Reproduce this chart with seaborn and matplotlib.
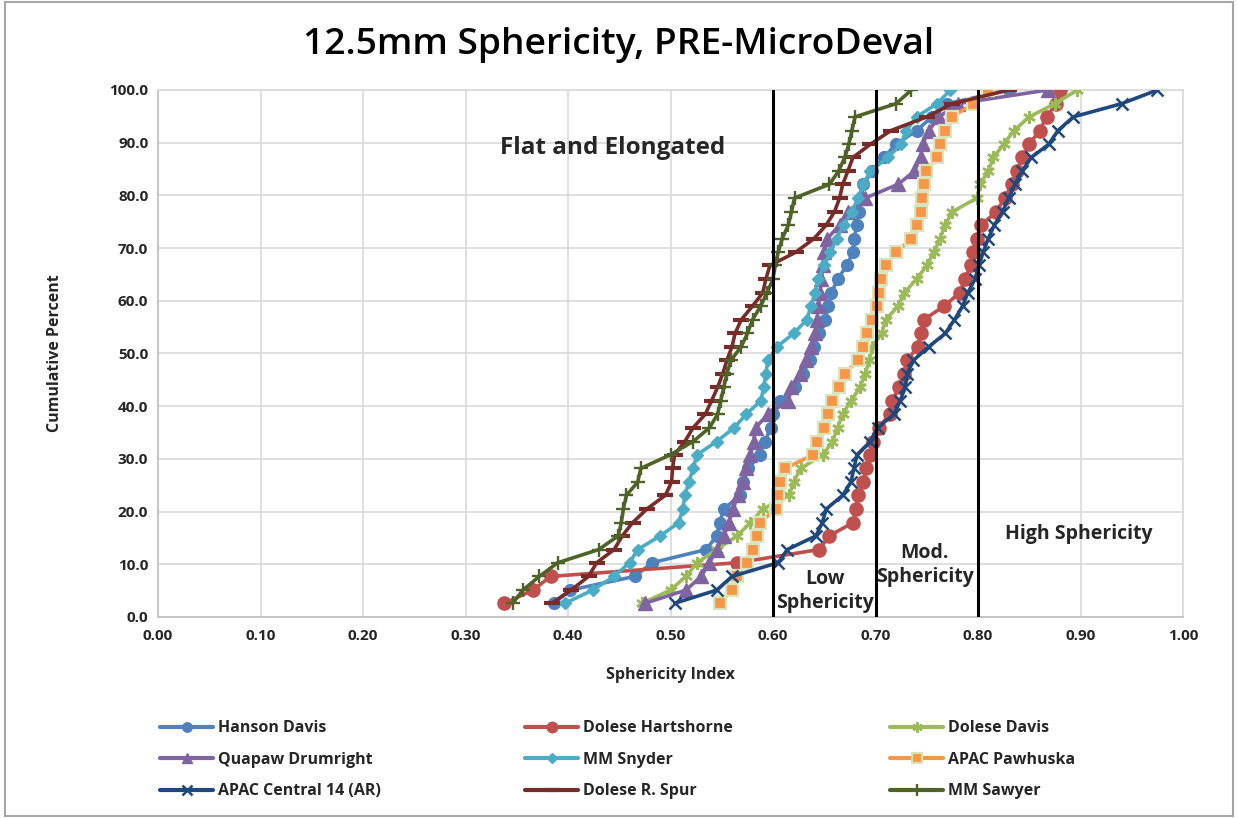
import matplotlib
matplotlib.use("Agg")
import matplotlib.pyplot as plt
import seaborn as sns
import pandas as pd
from matplotlib.patches import Rectangle
from matplotlib.lines import Line2D

# ---------------- data ----------------
cum_percent = [2.6, 5.1, 7.7, 10.3, 12.8, 15.4, 17.9, 20.5, 23.1, 25.6, 28.2, 30.8, 33.3,
               35.9, 38.5, 41.0, 43.6, 46.2, 48.7, 51.3, 53.8, 56.4, 59.0, 61.5, 64.1, 66.7,
               69.2, 71.8, 74.4, 76.9, 79.5, 82.1, 84.6, 87.2, 89.7, 92.3, 94.9, 97.4, 100.0]

hanson_davis = [0.386, 0.402, 0.465, 0.482, 0.535, 0.545, 0.548, 0.552, 0.568, 0.571, 0.576, 0.587, 0.592,
                0.598, 0.600, 0.607, 0.621, 0.629, 0.636, 0.640, 0.645, 0.651, 0.654, 0.657, 0.663, 0.672,
                0.678, 0.679, 0.682, 0.684, 0.686, 0.688, 0.697, 0.708, 0.720, 0.740, 0.755, 0.770, 0.830]
dolese_hartshorne = [0.338, 0.366, 0.383, 0.565, 0.645, 0.655, 0.678, 0.681, 0.683, 0.688, 0.691, 0.695, 0.698,
                     0.703, 0.714, 0.716, 0.723, 0.728, 0.731, 0.741, 0.744, 0.747, 0.767, 0.782, 0.787, 0.793,
                     0.795, 0.799, 0.803, 0.818, 0.826, 0.833, 0.838, 0.843, 0.850, 0.860, 0.867, 0.876, 0.880]
dolese_davis = [0.472, 0.500, 0.515, 0.526, 0.545, 0.565, 0.578, 0.590, 0.616, 0.620, 0.627, 0.649, 0.658,
                0.663, 0.668, 0.676, 0.685, 0.690, 0.694, 0.697, 0.706, 0.710, 0.722, 0.728, 0.740, 0.750,
                0.757, 0.763, 0.768, 0.775, 0.799, 0.802, 0.810, 0.815, 0.825, 0.835, 0.850, 0.875, 0.897]
quapaw_drumright = [0.475, 0.515, 0.530, 0.538, 0.545, 0.552, 0.557, 0.561, 0.566, 0.571, 0.574, 0.578, 0.581,
                    0.583, 0.595, 0.615, 0.618, 0.626, 0.632, 0.637, 0.641, 0.643, 0.644, 0.646, 0.647, 0.649,
                    0.650, 0.653, 0.665, 0.673, 0.690, 0.722, 0.738, 0.744, 0.746, 0.752, 0.762, 0.780, 0.868]
mm_snyder = [0.397, 0.424, 0.445, 0.460, 0.468, 0.490, 0.508, 0.512, 0.514, 0.518, 0.522, 0.526, 0.545,
             0.562, 0.574, 0.588, 0.591, 0.593, 0.595, 0.604, 0.620, 0.633, 0.637, 0.641, 0.644, 0.650,
             0.656, 0.662, 0.669, 0.677, 0.683, 0.688, 0.695, 0.712, 0.725, 0.730, 0.740, 0.760, 0.773]
apac_pawhuska = [0.548, 0.560, 0.565, 0.575, 0.580, 0.584, 0.587, 0.603, 0.605, 0.607, 0.612, 0.639, 0.643,
                 0.650, 0.654, 0.658, 0.664, 0.670, 0.683, 0.688, 0.692, 0.697, 0.701, 0.703, 0.705, 0.710,
                 0.720, 0.735, 0.740, 0.744, 0.745, 0.747, 0.749, 0.760, 0.763, 0.768, 0.775, 0.795, 0.810]
apac_central = [0.504, 0.545, 0.560, 0.605, 0.614, 0.642, 0.648, 0.652, 0.668, 0.676, 0.679, 0.682, 0.695,
                0.702, 0.718, 0.724, 0.729, 0.731, 0.737, 0.752, 0.768, 0.777, 0.785, 0.790, 0.797, 0.801,
                0.805, 0.810, 0.816, 0.824, 0.830, 0.836, 0.843, 0.852, 0.869, 0.878, 0.893, 0.940, 0.975]
dolese_r_spur = [0.384, 0.403, 0.420, 0.428, 0.445, 0.453, 0.463, 0.477, 0.495, 0.501, 0.502, 0.504, 0.514,
                 0.522, 0.534, 0.540, 0.546, 0.551, 0.555, 0.560, 0.563, 0.569, 0.580, 0.590, 0.593, 0.597,
                 0.622, 0.640, 0.652, 0.660, 0.665, 0.668, 0.673, 0.678, 0.695, 0.715, 0.750, 0.775, 0.830]
mm_sawyer = [0.346, 0.356, 0.372, 0.390, 0.430, 0.449, 0.452, 0.454, 0.457, 0.468, 0.471, 0.500, 0.522,
             0.538, 0.546, 0.549, 0.552, 0.555, 0.559, 0.569, 0.575, 0.580, 0.588, 0.594, 0.600, 0.602,
             0.605, 0.609, 0.615, 0.618, 0.621, 0.655, 0.664, 0.670, 0.674, 0.677, 0.680, 0.720, 0.735]

series_names = ["Hanson Davis", "Dolese Hartshorne", "Dolese Davis",
                "Quapaw Drumright", "MM Snyder", "APAC Pawhuska",
                "APAC Central 14 (AR)", "Dolese R. Spur", "MM Sawyer"]
series_values = [hanson_davis, dolese_hartshorne, dolese_davis,
                 quapaw_drumright, mm_snyder, apac_pawhuska,
                 apac_central, dolese_r_spur, mm_sawyer]

x_ticks = [0.0, 0.1, 0.2, 0.3, 0.4, 0.5, 0.6, 0.7, 0.8, 0.9, 1.0]
y_ticks = [0, 10, 20, 30, 40, 50, 60, 70, 80, 90, 100]
class_bounds = [0.6, 0.7, 0.8]

# ---------------- style ----------------
sns.set_theme(style="white")
FONT = ['Open Sans', 'DejaVu Sans']
plt.rcParams['font.family'] = FONT

styles = {
    "Hanson Davis":         dict(color="#4F81BD", marker="o", ms=8.5, mec="#4F81BD", mfc="#4F81BD", mew=1),
    "Dolese Hartshorne":    dict(color="#C0504D", marker="o", ms=9.5, mec="#C0504D", mfc="#C0504D", mew=1),
    "Dolese Davis":         dict(color="#9BBB59", marker=(6, 2, 0), ms=9, mec="#9BBB59", mfc="#9BBB59", mew=1.8),
    "Quapaw Drumright":     dict(color="#8064A2", marker="^", ms=9.5, mec="#8064A2", mfc="#8064A2", mew=1),
    "MM Snyder":            dict(color="#4BACC6", marker="D", ms=6.5, mec="#4BACC6", mfc="#4BACC6", mew=1),
    "APAC Pawhuska":        dict(color="#F79646", marker="s", ms=8.5, mec="#D7E4BD", mfc="#F79646", mew=1.6),
    "APAC Central 14 (AR)": dict(color="#1F497D", marker="x", ms=9, mec="#1F497D", mfc="#1F497D", mew=1.8),
    "Dolese R. Spur":       dict(color="#772C2A", marker="_", ms=11, mec="#772C2A", mfc="#772C2A", mew=3),
    "MM Sawyer":            dict(color="#4F6228", marker="+", ms=10, mec="#4F6228", mfc="#4F6228", mew=1.7),
}

fig = plt.figure(figsize=(12.38, 8.18), dpi=100)
ax = fig.add_axes([158/1238, 1-617/818, (1183-158)/1238, (617-90)/818])

rows = []
for name, vals in zip(series_names, series_values):
    for x, y in zip(vals, cum_percent):
        rows.append({"series": name, "index": x, "pct": y})
df = pd.DataFrame(rows)

for name in series_names:
    st = styles[name]
    sub = df[df["series"] == name]
    sns.lineplot(data=sub, x="index", y="pct", ax=ax, sort=False, estimator=None,
                 color=st["color"], linewidth=2.6, marker=st["marker"], markersize=st["ms"],
                 markeredgecolor=st["mec"], markerfacecolor=st["mfc"], markeredgewidth=st["mew"],
                 legend=False, zorder=3)

for b in class_bounds:
    ax.plot([b, b], [0, 100], color="black", linewidth=2.2, zorder=4)

ax.set_xlim(0, 1.0)
ax.set_ylim(0, 100)
ax.set_xticks(x_ticks)
ax.set_yticks(y_ticks)
ax.set_xticklabels([f"{v:.2f}" for v in x_ticks], fontsize=11, fontweight="bold")
ax.set_yticklabels([f"{v:.1f}" for v in y_ticks], fontsize=11, fontweight="bold")
ax.tick_params(axis="both", length=0, pad=7)
ax.tick_params(axis="x", pad=9)
ax.grid(True, color="#D9D9D9", linewidth=1.2, zorder=0)
ax.set_axisbelow(True)
for sp in ax.spines.values():
    sp.set_color("#D9D9D9")
    sp.set_linewidth(1.2)
ax.spines["bottom"].set_color("#BFBFBF")
ax.spines["left"].set_color("#BFBFBF")

ax.set_xlabel("Sphericity Index", fontsize=11.5, fontweight="bold", labelpad=17)
ax.set_ylabel("Cumulative Percent", fontsize=11.5, fontweight="bold", labelpad=33)

fig.text(0.5, 1-45/818, "12.5mm Sphericity, PRE-MicroDeval", ha="center", va="center",
         fontsize=26.8, fontweight="semibold", color="black")

ax.text(0.444, 89.0, "Flat and Elongated", ha="center", va="center", fontsize=17.5, fontweight="bold")
ax.text(0.651, 5.0, "Low\nSphericity", ha="center", va="center", fontsize=14, fontweight="bold",
        linespacing=1.25, zorder=5)
ax.text(0.748, 9.8, "Mod.\nSphericity", ha="center", va="center", fontsize=14, fontweight="bold",
        linespacing=1.25, zorder=5)
ax.text(0.898, 15.7, "High Sphericity", ha="center", va="center", fontsize=14, fontweight="bold", zorder=5)

# legend: three columns placed like the reference
col_groups = [["Hanson Davis", "Quapaw Drumright", "APAC Central 14 (AR)"],
              ["Dolese Hartshorne", "MM Snyder", "Dolese R. Spur"],
              ["Dolese Davis", "APAC Pawhuska", "MM Sawyer"]]
col_x = [146, 511, 876]
for names, cx in zip(col_groups, col_x):
    handles = []
    for n in names:
        st = styles[n]
        handles.append(Line2D([0], [0], color=st["color"], linewidth=3, marker=st["marker"],
                              markersize=st["ms"] * 0.8, markeredgecolor=st["mec"],
                              markerfacecolor=st["mfc"], markeredgewidth=st["mew"]))
    fig.legend(handles, names, loc="upper left", bbox_to_anchor=(cx/1238, 1-706/818),
               frameon=False, handlelength=3.3, handletextpad=0.3, labelspacing=0.97,
               prop={"size": 11.5, "weight": "bold", "family": FONT})

fig.patches.append(Rectangle((0.004, 0.003), 0.992, 0.994, transform=fig.transFigure,
                             fill=False, edgecolor="#A6A6A6", linewidth=1.5))

fig.savefig("out.png", dpi=100)
